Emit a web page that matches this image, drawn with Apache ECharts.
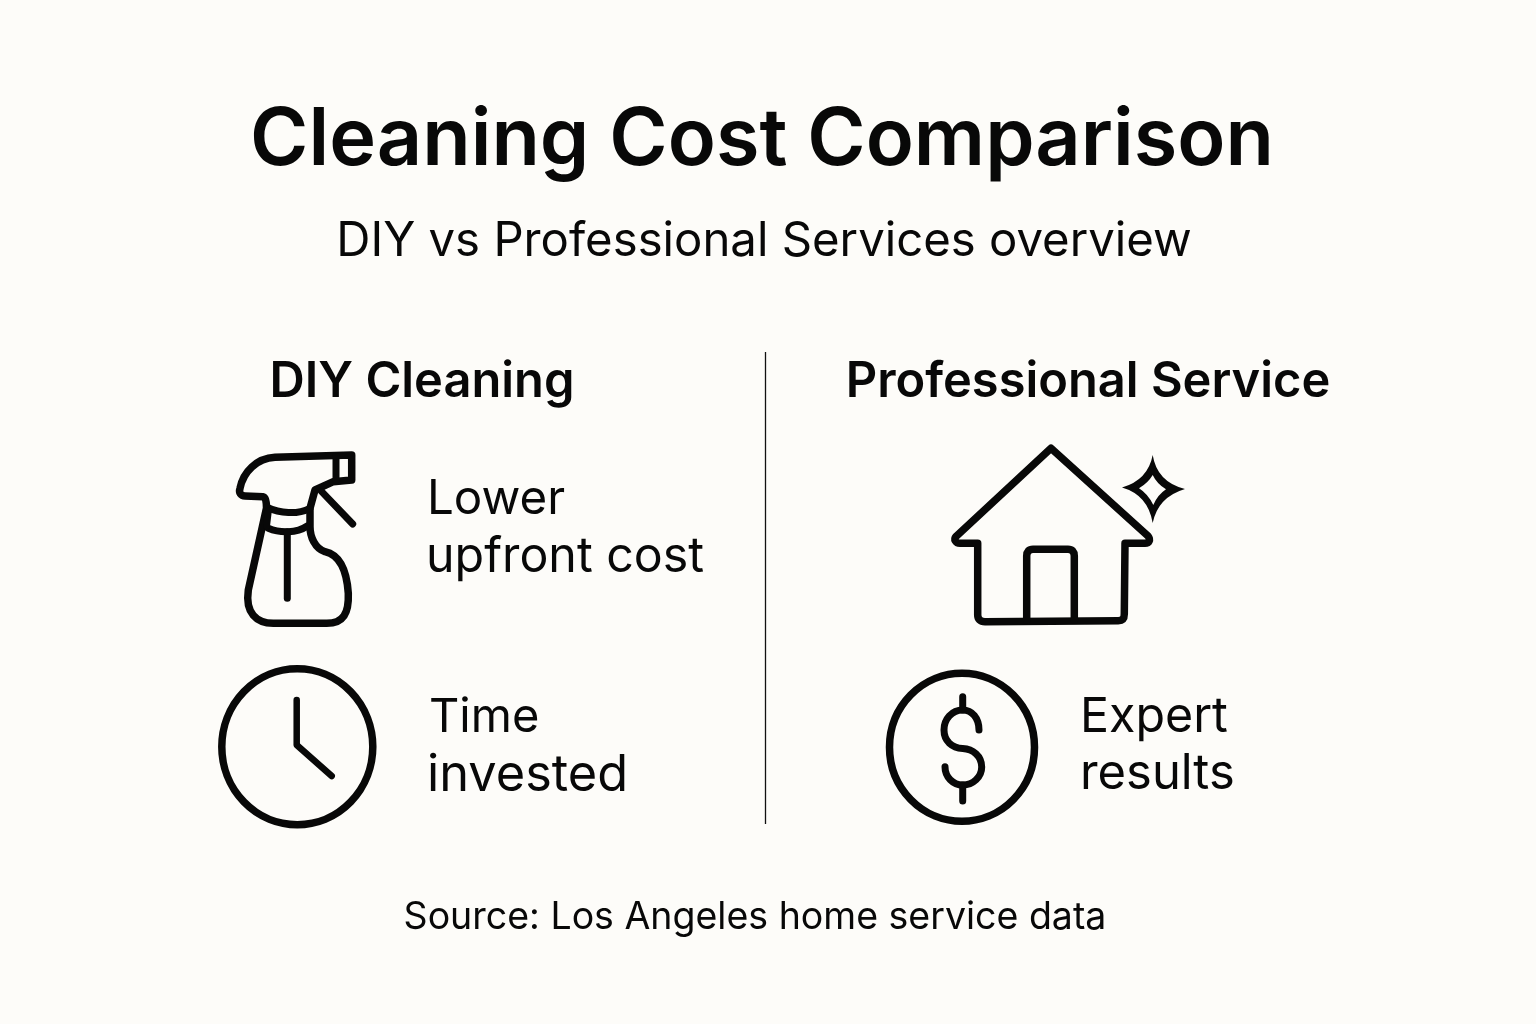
<!DOCTYPE html>
<html>
<head>
    <meta charset="UTF-8">
    <title>Cleaning Cost Comparison</title>
    <style>
        html, body { margin: 0; padding: 0; background-color: #fdfcf9; }
        #chart { width: 1536px; height: 1024px; }
    </style>
</head>
<body>
    <div id="chart"></div>

    <script src="https://cdn.jsdelivr.net/npm/echarts@6/dist/echarts.min.js"></script>
    <script>
        // texts
        const titleText = 'Cleaning Cost Comparison';
        const subtitleText = 'DIY vs Professional Services overview';
        const columnTitles = ['DIY Cleaning', 'Professional Service'];
        const diyLines = ['Lower', 'upfront cost', 'Time', 'invested'];
        const proLines = ['Expert', 'results'];
        const sourceText = 'Source: Los Angeles home service data';

        const BG = '#fdfcf9';
        const INK = '#080808';
        const FONT = 'Inter, "Noto Sans", sans-serif';

        // icon outlines
        const bottlePath = 'M351.7,455 L275,457.3 C256.7,458.3 243.3,471.7 240,488.3 C238.5,493 241,496 245,496 L263,496.7 C266,497 266.5,503 266.5,508 L248.3,590 C245,613.3 256.7,623.3 273.3,623.3 L326.7,623.3 C343.3,623.3 349,613.3 348.3,593.3 C346.7,570 340,555 325,551.7 C315,548.3 310,536.7 310,526.7 L310,508.3 L315,490 L333.3,481.7 L351.7,480 Z';
        const bottleParts = [
            'M266.7,507.3 C280,513.3 296.7,515 310,508.3',
            'M268.3,528.3 C280,533.3 296.7,533.3 307.3,526',
            'M268.3,511 L266.5,526',
            'M336,456.7 L336,480',
            'M321.7,491.7 L352.7,524',
            'M287.3,531.7 L287.3,598.3'
        ];
        const housePath = 'M1051,448.3 L1148,536 C1151,540 1149,543.3 1145,543.3 L1125,543.3 L1124.3,614 C1124.3,619 1122,620.7 1118.3,620.7 L985,621.7 C980,621.7 977.7,619 977.7,615 L977.7,543.3 L960,543.3 C955.5,543.3 953.5,539.5 956,536.5 Z';
        const doorPath = 'M1026.7,620 L1026.7,556 C1026.7,551.5 1029,549.3 1033,549.3 L1068,549.3 C1072,549.3 1074.3,551.5 1074.3,556 L1074.3,620';
        const starOuter = 'M1152.7,455 Q1157,482 1185,489 Q1158,497 1152.7,523 Q1148,495 1122,487.5 Q1148,480 1152.7,455 Z';
        const starInner = 'M1152.7,475 Q1157,484 1166,489.3 Q1157.5,495 1153.3,505 Q1148,494 1139,488.3 Q1148,483 1152.7,475 Z';
        const clockFace = 'M221.8,746.7 A75.5,78 0 1 1 372.8,746.7 A75.5,78 0 1 1 221.8,746.7 Z';
        const clockHands = 'M296.7,700 L296.7,745 L331.7,776';
        const coinFace = 'M889.5,747.3 A72.5,74 0 1 1 1034.5,747.3 A72.5,74 0 1 1 889.5,747.3 Z';
        const dollarCurve = 'M979,730 C979,718 972,710 962.7,710 C952,710 944,719 944,730 C944,741 952,748 962.7,748.5 C973,749 981.7,756 981.7,767 C981.7,777 973,785 962.7,785 C953,785 945,777 945,766.7';
        const dollarStems = ['M962.7,696.7 L962.7,710', 'M962.7,785 L962.7,801'];

        function label(text, x, y, size, weight, align) {
            return {
                type: 'text',
                x: x,
                y: y,
                style: {
                    text: text,
                    fill: INK,
                    font: weight + ' ' + size + 'px ' + FONT,
                    textAlign: align || 'left',
                    textVerticalAlign: 'middle'
                }
            };
        }

        // the graphic component has no plain svg path type, so each outline gets its own shape
        let shapeCount = 0;
        function pathType(d) {
            const name = 'icon' + (shapeCount++);
            echarts.graphic.registerShape(name, echarts.graphic.extendPath(d, {}));
            return name;
        }

        function stroke(d, width) {
            return {
                type: pathType(d),
                style: { fill: 'none', stroke: INK, lineWidth: width, lineCap: 'round', lineJoin: 'round' }
            };
        }

        function solid(d, color) {
            return {
                type: pathType(d),
                style: { fill: color, stroke: 'none' }
            };
        }

        const chart = echarts.init(document.getElementById('chart'), null, { renderer: 'canvas' });

        const elements = [
            label(titleText, 762, 141, 79.2, 600, 'center'),
            label(subtitleText, 764, 242, 47.3, 400, 'center'),
            label(columnTitles[0], 422, 382, 48.8, 600, 'center'),
            label(columnTitles[1], 1088, 382, 48.8, 600, 'center'),
            label(diyLines[0], 427, 500, 47.5, 400),
            label(diyLines[1], 426, 557, 48.3, 400),
            label(diyLines[2], 429, 718, 47, 400),
            label(diyLines[3], 427, 776, 50.5, 400),
            label(proLines[0], 1080, 717, 48.3, 400),
            label(proLines[1], 1080, 774, 48.9, 400),
            label(sourceText, 755, 918, 37.5, 400, 'center'),
            {
                type: 'line',
                shape: { x1: 765.5, y1: 352, x2: 765.5, y2: 824 },
                style: { stroke: '#111111', lineWidth: 1.3 }
            },
            stroke(bottlePath, 7.5),
            stroke(housePath, 7.5),
            stroke(doorPath, 7.5),
            solid(starOuter, INK),
            solid(starInner, BG),
            stroke(clockFace, 7.5),
            stroke(clockHands, 6.5),
            stroke(coinFace, 7.5),
            stroke(dollarCurve, 7)
        ];
        bottleParts.forEach(d => elements.push(stroke(d, 7)));
        dollarStems.forEach(d => elements.push(stroke(d, 7)));

        chart.setOption({
            backgroundColor: BG,
            animation: false,
            graphic: { elements: elements }
        });
    </script>
</body>
</html>
